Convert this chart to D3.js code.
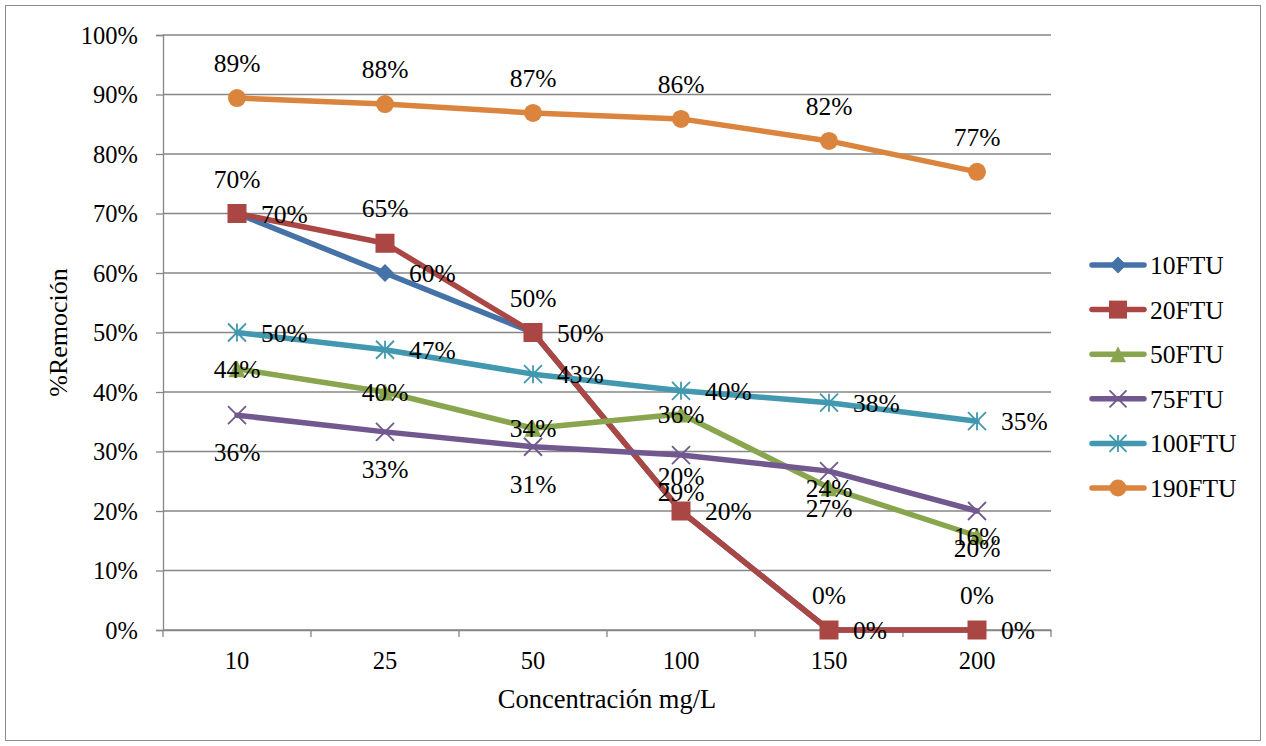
<!DOCTYPE html>
<html>
<head>
<meta charset="utf-8">
<script src="https://cdn.jsdelivr.net/npm/d3@7"></script>
<style>
  html, body { margin: 0; padding: 0; background: #fff; }
  svg { display: block; }
  text { font-family: "Liberation Serif", "Times New Roman", serif; fill: #000; }
</style>
</head>
<body>
<svg id="chart" width="1266" height="746"></svg>
<script>
const categories = ["10", "25", "50", "100", "150", "200"];
const seriesNames = ["10FTU", "20FTU", "50FTU", "75FTU", "100FTU", "190FTU"];
const values10 = [70, 60, 50, 20, 0, 0];
const values20 = [70, 65, 50, 20, 0, 0];
const values50 = [43.9, 40, 33.9, 36.3, 23.9, 15.8];
const values75 = [36.1, 33.3, 30.8, 29.4, 26.7, 20];
const values100 = [50, 47.1, 43, 40.2, 38.2, 35.1];
const values190 = [89.4, 88.4, 86.9, 85.9, 82.2, 77];
const yTicks = [0, 10, 20, 30, 40, 50, 60, 70, 80, 90, 100];

const colors = ["#4572a7", "#aa4643", "#89a54e", "#71588f", "#4198af", "#db843d"];
const markers = ["diamond", "square", "triangle", "x", "asterisk", "circle"];
const labelPos = ["right", "above", "center", "below", "right", "above"];
const allValues = [values10, values20, values50, values75, values100, values190];

const svg = d3.select("#chart");
const W = 1266, H = 746;
const m = { left: 163, right: 1051, top: 35, bottom: 630 };
const FONT = "Liberation Serif, Times New Roman, serif";

svg.append("rect").attr("x", 5.5).attr("y", 5.5).attr("width", W - 11).attr("height", H - 11)
  .attr("fill", "#fff").attr("stroke", "#8c8c8c").attr("stroke-width", 1);

const x = d3.scaleBand().domain(categories).range([m.left, m.right]).padding(0);
const y = d3.scaleLinear().domain([0, 100]).range([m.bottom, m.top]);

// gridlines
svg.append("g").selectAll("line").data(yTicks).join("line")
  .attr("x1", m.left).attr("x2", m.right)
  .attr("y1", d => y(d)).attr("y2", d => y(d))
  .attr("stroke", "#868686").attr("stroke-width", 1.3);

// y axis
const yAxis = svg.append("g").attr("transform", `translate(${m.left},0)`)
  .call(d3.axisLeft(y).tickValues(yTicks).tickFormat(d => d + "%").tickSize(7).tickPadding(18));
yAxis.attr("font-family", FONT);
yAxis.select(".domain").attr("stroke", "#868686").attr("stroke-width", 1.3);
yAxis.selectAll(".tick line").attr("stroke", "#868686").attr("stroke-width", 1.3);
yAxis.selectAll("text").attr("font-size", 24.5).attr("dy", "0.33em");

// x axis
const xAxis = svg.append("g").attr("transform", `translate(0,${m.bottom})`)
  .call(d3.axisBottom(x).tickSize(0).tickPadding(22));
xAxis.attr("font-family", FONT);
xAxis.select(".domain").attr("stroke", "#868686").attr("stroke-width", 1.3);
xAxis.selectAll("text").attr("font-size", 24.5);
const bounds = categories.map(c => x(c)).concat([m.right]);
xAxis.append("g").selectAll("line").data(bounds).join("line")
  .attr("x1", d => d).attr("x2", d => d).attr("y1", 0).attr("y2", 7)
  .attr("stroke", "#868686").attr("stroke-width", 1.3);

// axis titles
svg.append("text").attr("x", (m.left + m.right) / 2).attr("y", 708)
  .attr("text-anchor", "middle").attr("font-size", 26.5).text("Concentración mg/L");
svg.append("text").attr("transform", `translate(67,${(m.top + m.bottom) / 2}) rotate(-90)`)
  .attr("text-anchor", "middle").attr("font-size", 26).text("%Remoción");

const cx = c => x(c) + x.bandwidth() / 2;

function drawMarker(g, type, color, px, py, s) {
  if (type === "diamond") {
    g.append("path").attr("d", `M${px},${py - s / 2}L${px + s / 2},${py}L${px},${py + s / 2}L${px - s / 2},${py}Z`)
      .attr("fill", color);
  } else if (type === "square") {
    g.append("rect").attr("x", px - s / 2).attr("y", py - s / 2).attr("width", s).attr("height", s).attr("fill", color);
  } else if (type === "triangle") {
    g.append("path").attr("d", `M${px},${py - s / 2}L${px + s / 2},${py + s / 2}L${px - s / 2},${py + s / 2}Z`)
      .attr("fill", color);
  } else if (type === "circle") {
    g.append("circle").attr("cx", px).attr("cy", py).attr("r", s / 2).attr("fill", color);
  } else if (type === "x") {
    const h = s / 2;
    g.append("path").attr("d", `M${px - h},${py - h}L${px + h},${py + h}M${px - h},${py + h}L${px + h},${py - h}`)
      .attr("stroke", color).attr("stroke-width", 1.8).attr("fill", "none");
  } else if (type === "asterisk") {
    const h = s / 2;
    g.append("path").attr("d", `M${px - h},${py - h}L${px + h},${py + h}M${px - h},${py + h}L${px + h},${py - h}M${px},${py - h}L${px},${py + h}`)
      .attr("stroke", color).attr("stroke-width", 1.8).attr("fill", "none");
  }
}

const markerSize = { diamond: 18, square: 19, triangle: 17, circle: 18, x: 18, asterisk: 18 };

const line = d3.line().x((d, i) => cx(categories[i])).y(d => y(d));

// lines & markers
allValues.forEach((vals, si) => {
  const g = svg.append("g");
  g.append("path").datum(vals).attr("d", line)
    .attr("fill", "none").attr("stroke", colors[si]).attr("stroke-width", 5.5)
    .attr("stroke-linejoin", "round").attr("stroke-linecap", "round");
  vals.forEach((v, i) => drawMarker(g, markers[si], colors[si], cx(categories[i]), y(v), markerSize[markers[si]]));
});

// data labels
allValues.forEach((vals, si) => {
  const g = svg.append("g");
  vals.forEach((v, i) => {
    const px = cx(categories[i]), py = y(v);
    const t = g.append("text").attr("font-size", 25.5).text(Math.round(v) + "%");
    const pos = labelPos[si];
    if (pos === "right") {
      t.attr("x", px + 24).attr("y", py + 9).attr("text-anchor", "start");
    } else if (pos === "above") {
      t.attr("x", px).attr("y", py - 26).attr("text-anchor", "middle");
    } else if (pos === "below") {
      t.attr("x", px).attr("y", py + 46).attr("text-anchor", "middle");
    } else {
      t.attr("x", px).attr("y", py + 9).attr("text-anchor", "middle");
    }
  });
});

// legend
const lg = svg.append("g");
seriesNames.forEach((name, si) => {
  const ly = 265 + si * 44.6;
  lg.append("line").attr("x1", 1092).attr("x2", 1144).attr("y1", ly).attr("y2", ly)
    .attr("stroke", colors[si]).attr("stroke-width", 5.5).attr("stroke-linecap", "round");
  drawMarker(lg, markers[si], colors[si], 1118, ly, markerSize[markers[si]] - 1);
  lg.append("text").attr("x", 1150).attr("y", ly + 9).attr("font-size", 25.5).text(name);
});
</script>
</body>
</html>
